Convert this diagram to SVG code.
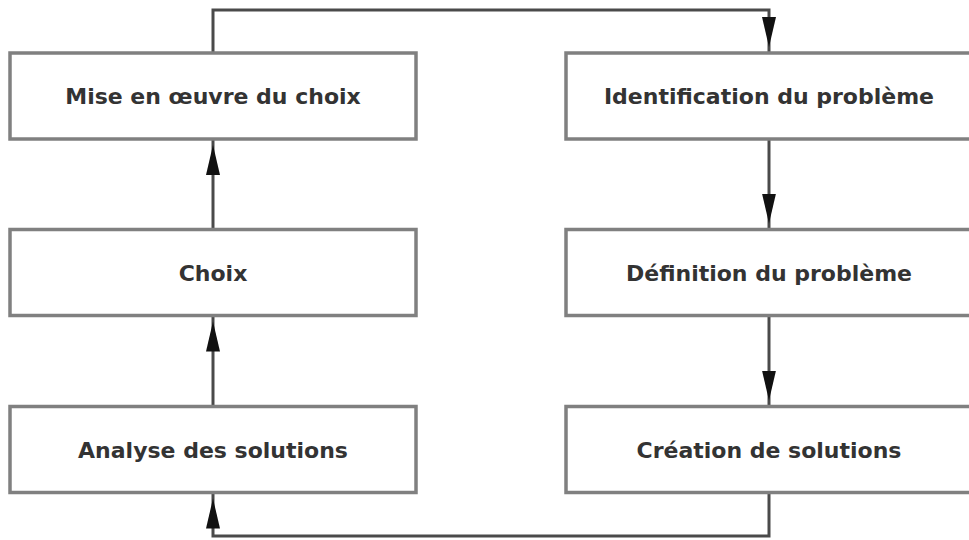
<svg xmlns="http://www.w3.org/2000/svg" width="969" height="540" viewBox="0 0 969 540">
  <style>
    .box { fill: #ffffff; stroke: #808080; stroke-width: 3.5; }
    .lbl { font-family: "DejaVu Sans", "Liberation Sans", sans-serif; font-weight: bold; font-size: 22px; fill: #333333; text-anchor: middle; }
    .conn { fill: none; stroke: #4a4a4a; stroke-width: 3; marker-end: url(#arrow); }
  </style>
  <defs>
    <marker id="arrow" markerUnits="userSpaceOnUse" markerWidth="36" markerHeight="16" viewBox="0 0 36 16" refX="36" refY="8" orient="auto">
      <path d="M0,1 L30,8 L0,15 Z" fill="#111111"/>
    </marker>
  </defs>
  <rect width="969" height="540" fill="#ffffff"/>
  <g id="connectors">
    <path class="conn" d="M213 53 V10 H769 V53"/>
    <path class="conn" d="M769 139 V229.5"/>
    <path class="conn" d="M769 315.5 V406.5"/>
    <path class="conn" d="M769 492.5 V536 H213 V492.5"/>
    <path class="conn" d="M213 406.5 V315.5"/>
    <path class="conn" d="M213 229.5 V139"/>
  </g>
  <g id="mise-en-oeuvre">
    <rect class="box" x="10" y="53" width="406" height="86"/>
    <text class="lbl" x="213" y="104">Mise en œuvre du choix</text>
  </g>
  <g id="choix">
    <rect class="box" x="10" y="229.5" width="406" height="86"/>
    <text class="lbl" x="213" y="280.5">Choix</text>
  </g>
  <g id="analyse">
    <rect class="box" x="10" y="406.5" width="406" height="86"/>
    <text class="lbl" x="213" y="457.5">Analyse des solutions</text>
  </g>
  <g id="identification">
    <rect class="box" x="566" y="53" width="406" height="86"/>
    <text class="lbl" x="769" y="104">Identification du problème</text>
  </g>
  <g id="definition">
    <rect class="box" x="566" y="229.5" width="406" height="86"/>
    <text class="lbl" x="769" y="280.5">Définition du problème</text>
  </g>
  <g id="creation">
    <rect class="box" x="566" y="406.5" width="406" height="86"/>
    <text class="lbl" x="769" y="457.5">Création de solutions</text>
  </g>
</svg>
